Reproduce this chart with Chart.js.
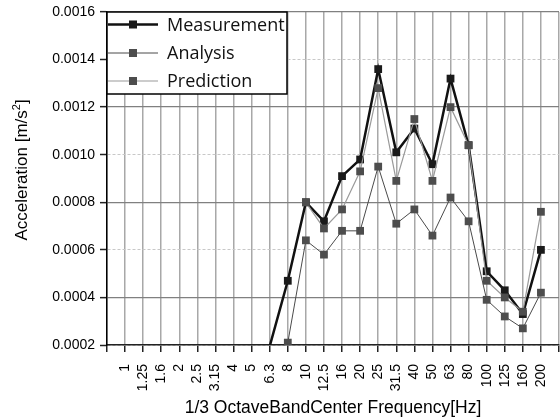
<!DOCTYPE html>
<html>
<head>
<meta charset="utf-8">
<script src="https://cdn.jsdelivr.net/npm/chart.js@4"></script>
<style>
  html, body { margin: 0; padding: 0; background: #fff; }
  #wrap { width: 560px; height: 420px; }
</style>
</head>
<body>
<div id="wrap"><canvas id="accChart" width="560" height="420"></canvas></div>
<script>
// 1/3 octave band centre frequencies [Hz]
const bands = ['1', '1.25', '1.6', '2', '2.5', '3.15', '4', '5', '6.3', '8', '10', '12.5',
  '16', '20', '25', '31.5', '40', '50', '63', '80', '100', '125', '160', '200'];

// acceleration [m/s2]
const measurement = [null, null, null, null, null, null, null, null, 0.000195, 0.00047, 0.0008, 0.00072,
  0.00091, 0.00098, 0.00136, 0.00101, 0.00111, 0.00096, 0.00132, 0.00104, 0.00051, 0.00043, 0.00033, 0.0006];
const analysis = [null, null, null, null, null, null, null, null, null, 0.00021, 0.00064, 0.00058,
  0.00068, 0.00068, 0.00095, 0.00071, 0.00077, 0.00066, 0.00082, 0.00072, 0.00039, 0.00032, 0.00027, 0.00042];
const prediction = [null, null, null, null, null, null, null, null, null, null, 0.0008, 0.00069,
  0.00077, 0.00093, 0.00128, 0.00089, 0.00115, 0.00089, 0.0012, 0.00104, 0.00047, 0.0004, 0.00034, 0.00076];

const yMin = 0.0002, yMax = 0.0016, yStep = 0.0002;

function toPoints(vals) {
  return vals.map((v, i) => ({ x: i + 1, y: v }));
}

function series(label, vals, line, width, marker, order) {
  return {
    label: label,
    data: toPoints(vals),
    borderColor: line,
    borderWidth: width,
    backgroundColor: marker,
    pointBackgroundColor: marker,
    pointBorderColor: marker,
    pointBorderWidth: 0,
    pointStyle: 'rect',
    pointRadius: ctx => (ctx.raw && ctx.raw.y < yMin ? 0 : 5.5),
    pointHoverRadius: 5.5,
    tension: 0,
    spanGaps: false,
    order: order
  };
}

// legend box inside the plot (top left) + y axis title with a real superscript
const boxLegend = {
  id: 'boxLegend',
  afterDatasetsDraw(chart) {
    const { ctx, chartArea } = chart;
    const x0 = chartArea.left, y0 = chartArea.top;
    ctx.save();
    ctx.fillStyle = '#fff';
    ctx.fillRect(x0, y0, 180, 82);
    ctx.strokeStyle = '#000';
    ctx.lineWidth = 1.5;
    ctx.strokeRect(x0, y0, 180, 82);
    const rows = [12.5, 41, 69];
    chart.data.datasets.forEach((ds, i) => {
      const y = y0 + rows[i];
      ctx.strokeStyle = ds.borderColor;
      ctx.lineWidth = ds.borderWidth;
      ctx.beginPath();
      ctx.moveTo(x0 + 1, y);
      ctx.lineTo(x0 + 51, y);
      ctx.stroke();
      ctx.fillStyle = ds.pointBackgroundColor;
      ctx.fillRect(x0 + 26 - 4, y - 4, 8, 8);
      ctx.fillStyle = '#111';
      ctx.font = '18px "Open Sans"';
      ctx.textBaseline = 'middle';
      ctx.fillText(ds.label, x0 + 60, y + 1);
    });
    ctx.restore();

    // y title
    ctx.save();
    ctx.translate(22, 170);
    ctx.rotate(-Math.PI / 2);
    ctx.fillStyle = '#000';
    ctx.textBaseline = 'middle';
    const main = 'Acceleration [m/s';
    ctx.font = '17px "Liberation Sans"';
    const wMain = ctx.measureText(main).width;
    ctx.font = '11px "Liberation Sans"';
    const wSup = ctx.measureText('2').width;
    ctx.font = '17px "Liberation Sans"';
    const wEnd = ctx.measureText(']').width;
    let x = -(wMain + wSup + wEnd) / 2;
    ctx.fillText(main, x, 0);
    x += wMain;
    ctx.font = '11px "Liberation Sans"';
    ctx.fillText('2', x, -5);
    x += wSup;
    ctx.font = '17px "Liberation Sans"';
    ctx.fillText(']', x, 0);
    ctx.restore();
  }
};

const ctx = document.getElementById('accChart').getContext('2d');
new Chart(ctx, {
  type: 'line',
  data: {
    datasets: [
      series('Measurement', measurement, '#111', 2.5, '#1a1a1a', 3),
      series('Analysis', analysis, '#4a4a4a', 1, '#4d4d4d', 2),
      series('Prediction', prediction, '#9a9a9a', 1.2, '#4d4d4d', 1)
    ]
  },
  options: {
    responsive: false,
    animation: false,
    layout: { autoPadding: false, padding: { top: 12, right: 1, left: 0, bottom: 0 } },
    plugins: {
      legend: { display: false },
      tooltip: { enabled: false }
    },
    scales: {
      x: {
        type: 'linear',
        min: 0,
        max: bands.length + 1,
        afterFit: s => { s.height = 75; s.paddingLeft = 0; s.paddingRight = 0; },
        ticks: {
          stepSize: 1,
          autoSkip: false,
          maxRotation: 90,
          minRotation: 90,
          color: '#000',
          padding: 12,
          font: { family: 'Liberation Sans', size: 14 },
          callback: v => bands[v - 1] || ''
        },
        grid: {
          color: '#a8a8a8',
          lineWidth: 1.5,
          tickLength: 7,
          tickColor: '#222',
          tickWidth: 1.5
        },
        border: { color: '#222', width: 1.5 },
        title: {
          display: true,
          text: '1/3 OctaveBandCenter Frequency[Hz]',
          color: '#000',
          font: { family: 'Liberation Sans', size: 17.5 },
          padding: { top: 0, bottom: 1 }
        }
      },
      y: {
        min: yMin,
        max: yMax,
        afterFit: s => { s.width = 107; s.paddingTop = 0; s.paddingBottom = 0; },
        ticks: {
          stepSize: yStep,
          color: '#000',
          padding: 5,
          font: { family: 'Liberation Sans', size: 14 },
          callback: v => Number(v).toFixed(4)
        },
        grid: {
          color: c => (c.index % 2 === 1 ? '#808080' : '#c8c8c8'),
          lineWidth: c => (c.index % 2 === 1 ? 1.3 : 1),
          tickLength: 7,
          tickColor: '#222',
          tickWidth: 1.5
        },
        border: {
          color: '#000',
          width: 1.5,
          dash: c => (c.index % 2 === 1 ? [] : [3, 2])
        },
        title: { display: false }
      }
    }
  },
  plugins: [boxLegend]
});
</script>
</body>
</html>
